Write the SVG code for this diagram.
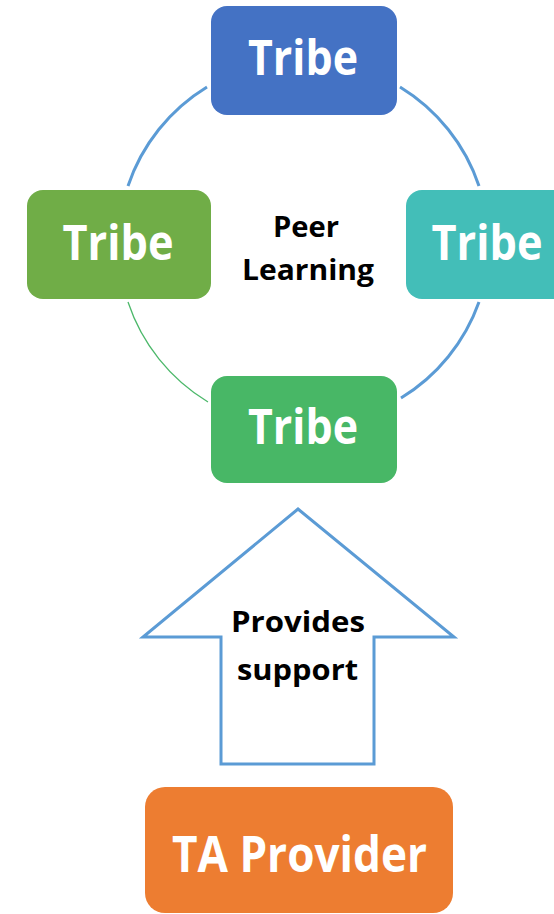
<svg xmlns="http://www.w3.org/2000/svg" width="554" height="914" viewBox="0 0 554 914">
<style>
.lbl{font-family:"Open Sans",Lato,"Liberation Sans",sans-serif;font-weight:bold;text-anchor:middle}
.w{fill:#FFFFFF}
.k{fill:#000000}
.arc{fill:none;stroke:#5B9BD5;stroke-width:3}
.arc2{fill:none;stroke:#4CB86A;stroke-width:1.3}
</style>
<rect width="554" height="914" fill="#FFFFFF"/>
<g id="connectors">
<path class="arc" d="M128,186 A185,185 0 0 1 207,87"/>
<path class="arc" d="M400,87 A185,185 0 0 1 479,186"/>
<path class="arc" d="M479,302 A185,185 0 0 1 401,398"/>
<path class="arc2" d="M128,302 A185,185 0 0 0 208,402"/>
</g>
<g id="tribe-top">
<rect x="211" y="6" width="186" height="109" rx="16" fill="#4472C4"/>
<text class="lbl w" x="303" y="75" font-size="49" textLength="110" lengthAdjust="spacingAndGlyphs">Tribe</text>
</g>
<g id="tribe-left">
<rect x="27" y="190" width="184" height="109" rx="16" fill="#70AD47"/>
<text class="lbl w" x="118" y="260" font-size="49" textLength="111" lengthAdjust="spacingAndGlyphs">Tribe</text>
</g>
<g id="tribe-right">
<rect x="406" y="190" width="184" height="109" rx="16" fill="#43BEB8"/>
<text class="lbl w" x="487" y="260" font-size="49" textLength="111" lengthAdjust="spacingAndGlyphs">Tribe</text>
</g>
<g id="tribe-bottom">
<rect x="211" y="376" width="186" height="107" rx="16" fill="#48B766"/>
<text class="lbl w" x="303" y="444" font-size="49" textLength="110" lengthAdjust="spacingAndGlyphs">Tribe</text>
</g>
<g id="peer-learning">
<text class="lbl k" x="306" y="237" font-size="29" textLength="66" lengthAdjust="spacingAndGlyphs">Peer</text>
<text class="lbl k" x="308" y="280" font-size="29" textLength="132" lengthAdjust="spacingAndGlyphs">Learning</text>
</g>
<g id="support-arrow">
<polygon points="298,509 454,637 374,637 374,764 221,764 221,637 143,637" fill="#FFFFFF" stroke="#5B9BD5" stroke-width="3"/>
<text class="lbl k" x="298" y="632" font-size="29" textLength="134" lengthAdjust="spacingAndGlyphs">Provides</text>
<text class="lbl k" x="297.5" y="680" font-size="29" textLength="121" lengthAdjust="spacingAndGlyphs">support</text>
</g>
<g id="ta-provider">
<rect x="145" y="787" width="308" height="126" rx="20" fill="#ED7D31"/>
<text class="lbl w" x="299.5" y="872" font-size="51" textLength="255" lengthAdjust="spacingAndGlyphs">TA Provider</text>
</g>
</svg>
